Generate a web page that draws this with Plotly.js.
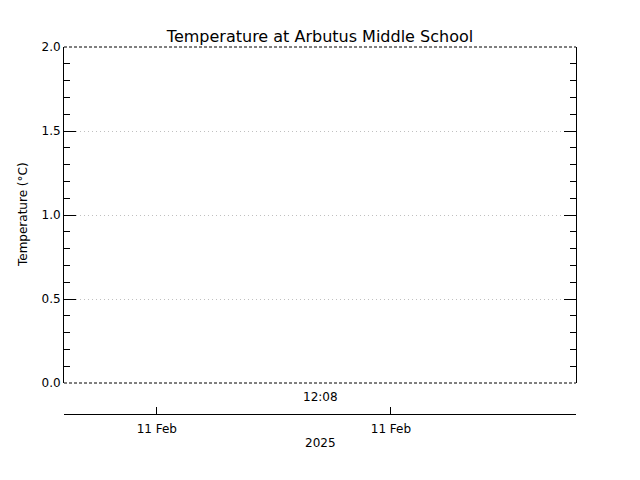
<!DOCTYPE html>
<html>
<head>
<meta charset="utf-8">
<script src="https://cdn.plot.ly/plotly-3.0.1.min.js"></script>
<style>html,body{margin:0;padding:0;background:#fff;}#chart{width:640px;height:480px;}</style>
</head>
<body>
<div id="chart"></div>
<script>
// Data (the reference plot contains no data points)
const times = [];
const temps = [];

const xRange = ['2025-02-11 12:00:00', '2025-02-11 12:16:00'];
const yRange = [0, 2];
const tickTimes = ['2025-02-11 12:02:54', '2025-02-11 12:10:13'];
const tickLabels = ['11 Feb', '11 Feb'];
const centerLabel = '12:08';
const yearLabel = '2025';
const yTickVals = [0, 0.5, 1, 1.5, 2];
const yTickText = ['0.0', '0.5', '1.0', '1.5', '2.0'];

const FONT = 'DejaVu Sans, sans-serif';

const traces = [
  {x: times, y: temps, type: 'scatter', mode: 'lines', line: {color: 'black', width: 1}, xaxis: 'x', yaxis: 'y', showlegend: false},
  {x: times, y: temps, type: 'scatter', mode: 'lines', xaxis: 'x2', yaxis: 'y', showlegend: false}
];

const ydom0 = (414 - 383) / 367;

const layout = {
  width: 640, height: 480,
  margin: {l: 64, r: 64, t: 47, b: 66, pad: 0},
  paper_bgcolor: 'white', plot_bgcolor: 'white',
  font: {family: FONT, size: 12, color: 'black'},
  showlegend: false,
  title: {text: 'Temperature at Arbutus Middle School', font: {family: FONT, size: 16, color: 'black'},
          x: 0.5, xanchor: 'center', xref: 'paper', y: 1 - 36 / 480, yanchor: 'middle', yref: 'container'},
  xaxis: {type: 'date', range: xRange, showline: false, showticklabels: false, ticks: '', showgrid: false, zeroline: false, fixedrange: true},
  xaxis2: {type: 'date', range: xRange, overlaying: 'x', anchor: 'free', position: 0, side: 'bottom',
           showline: true, linecolor: 'black', linewidth: 1, showgrid: false, zeroline: false,
           tickmode: 'array', tickvals: tickTimes, ticktext: tickLabels,
           ticks: 'inside', ticklen: 7, tickwidth: 1, tickcolor: 'black', ticklabelstandoff: 4,
           tickfont: {family: FONT, size: 12, color: 'black'}},
  yaxis: {range: yRange, domain: [ydom0, 1], showline: true, mirror: 'ticks', linecolor: 'black', linewidth: 1,
          tickmode: 'array', tickvals: yTickVals, ticktext: yTickText,
          ticks: 'inside', ticklen: 12, tickwidth: 1, tickcolor: 'black',
          tickfont: {family: FONT, size: 12, color: 'black'},
          showgrid: true, gridcolor: '#c0c0c0', griddash: '1px,3px', gridwidth: 1, zeroline: false,
          minor: {dtick: 0.1, ticks: 'inside', ticklen: 6, tickwidth: 1, tickcolor: 'black', showgrid: false}},
  shapes: [
    {type: 'line', xref: 'x domain', yref: 'y domain', x0: 0, x1: 1, y0: 1, y1: 1, line: {color: 'white', width: 2}, layer: 'above'},
    {type: 'line', xref: 'x domain', yref: 'y domain', x0: 0, x1: 1, y0: 0, y1: 0, line: {color: 'white', width: 2}, layer: 'above'},
    {type: 'line', xref: 'x domain', yref: 'y domain', x0: 0, x1: 1, y0: 1, y1: 1, line: {color: 'black', width: 1, dash: '3px,2px'}, layer: 'above'},
    {type: 'line', xref: 'x domain', yref: 'y domain', x0: 0, x1: 1, y0: 0, y1: 0, line: {color: 'black', width: 1, dash: '3px,2px'}, layer: 'above'}
  ],
  annotations: [
    {text: centerLabel, xref: 'paper', yref: 'paper', x: 0.5, y: (414 - 397) / 367, xanchor: 'center', yanchor: 'middle', showarrow: false, font: {family: FONT, size: 12, color: 'black'}},
    {text: yearLabel, xref: 'paper', yref: 'paper', x: 0.5, y: (414 - 443) / 367, xanchor: 'center', yanchor: 'middle', showarrow: false, font: {family: FONT, size: 12, color: 'black'}},
    {text: 'Temperature (°C)', xref: 'paper', yref: 'paper', x: (23 - 64) / 512, y: (414 - 215) / 367, xanchor: 'center', yanchor: 'middle', textangle: -90, showarrow: false, font: {family: FONT, size: 12, color: 'black'}}
  ]
};

Plotly.newPlot('chart', traces, layout, {staticPlot: true, displayModeBar: false});
</script>
</body>
</html>
